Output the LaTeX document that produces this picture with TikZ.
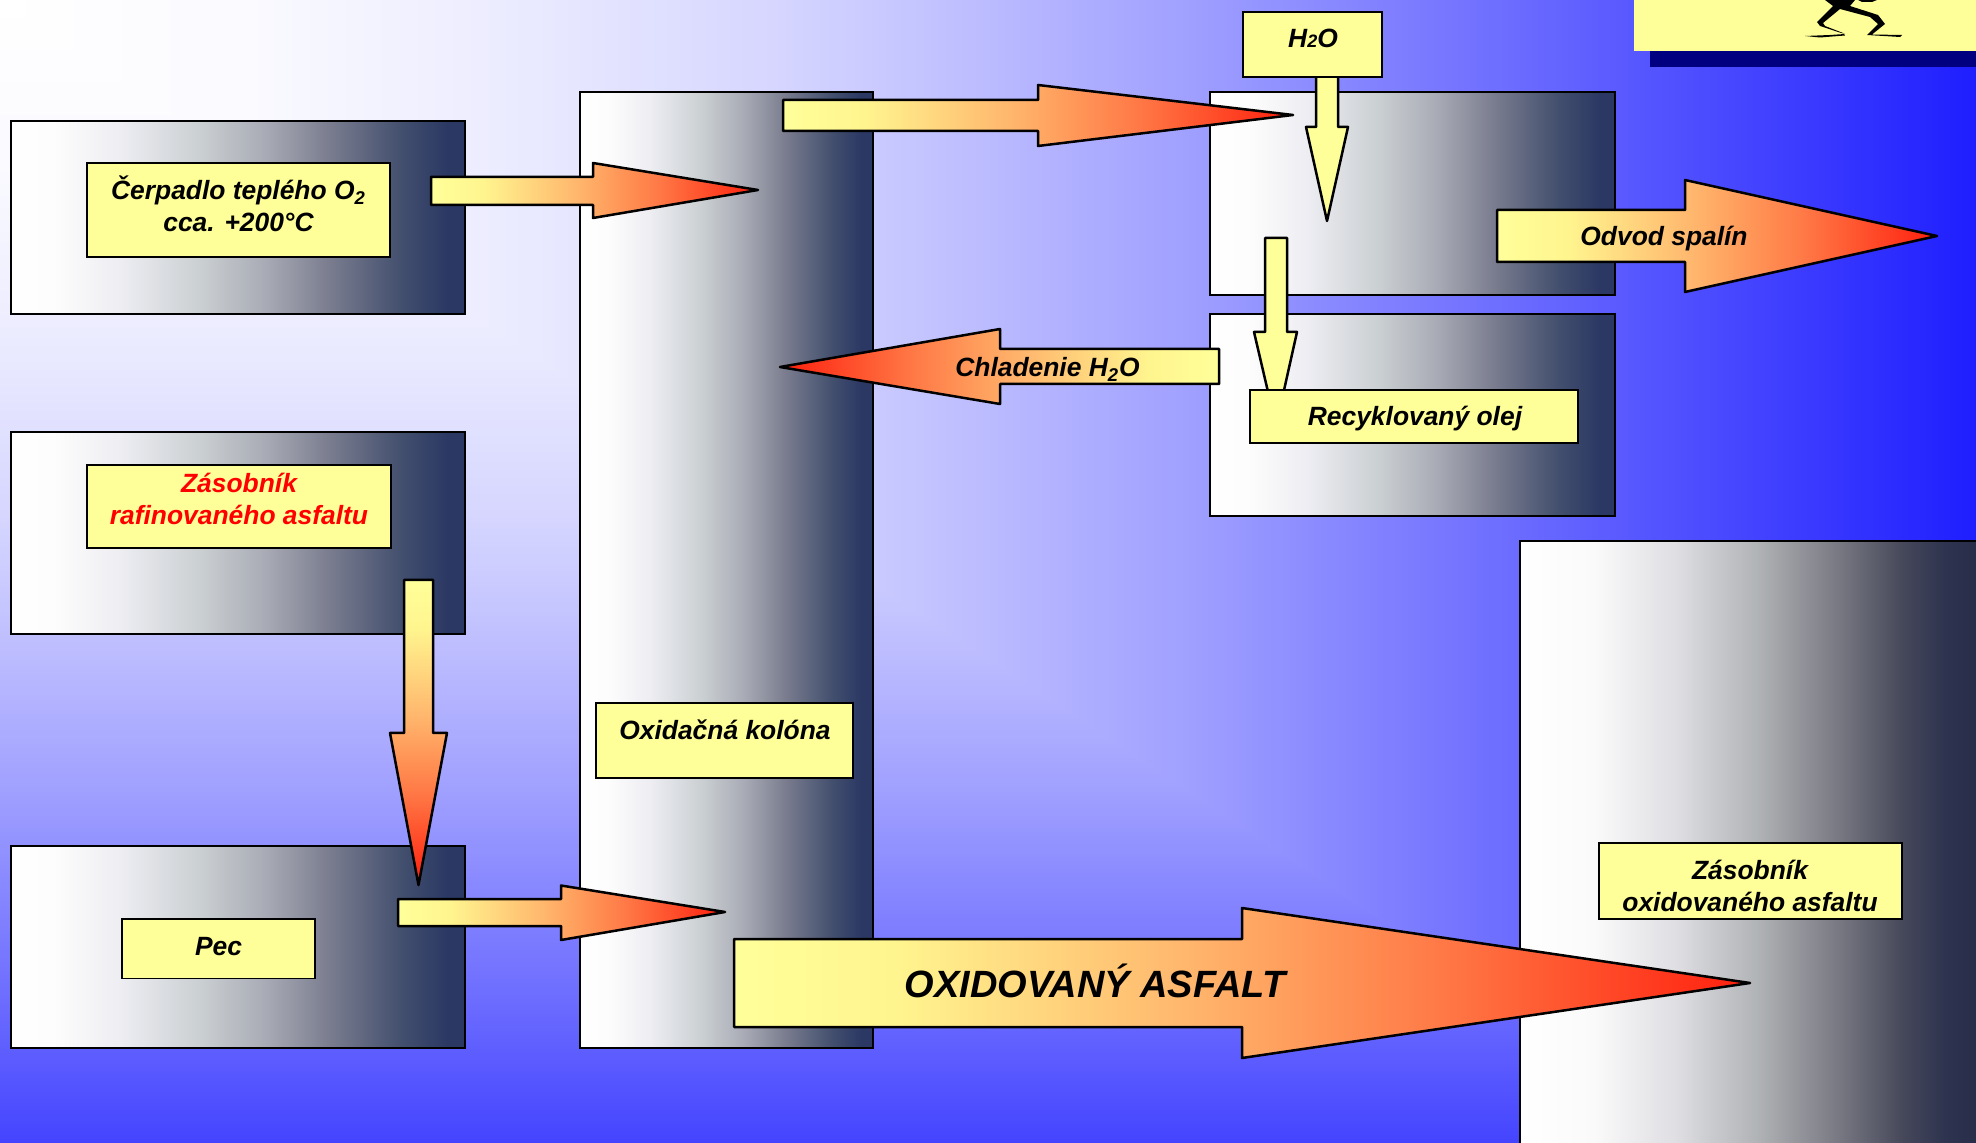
\documentclass[tikz,border=0pt]{standalone}
\usepackage{fontspec}
\setmainfont{Liberation Sans}
\usetikzlibrary{fit}
\pgfdeclarehorizontalshading{bgx}{100bp}{rgb(0bp)=(1,1,1); rgb(25bp)=(1,1,1); rgb(31.3bp)=(.98,.98,1); rgb(37.65bp)=(.925,.925,1); rgb(44.5bp)=(.84,.84,1); rgb(47bp)=(.795,.795,1); rgb(54.9bp)=(.63,.63,1); rgb(63.2bp)=(.424,.424,1); rgb(75bp)=(.118,.118,1); rgb(100bp)=(.118,.118,1)}
\pgfdeclareverticalshading{bgy}{100bp}{rgb(0bp)=(.267,.267,1); rgb(25bp)=(.267,.267,1); rgb(31.25bp)=(.424,.424,1); rgb(40.6bp)=(.63,.63,1); rgb(49.6bp)=(.795,.795,1); rgb(52.6bp)=(.84,.84,1); rgb(60.4bp)=(.925,.925,1); rgb(67.7bp)=(.98,.98,1); rgb(75bp)=(1,1,1); rgb(100bp)=(1,1,1)}
\pgfdeclarehorizontalshading{boxgrad}{100bp}{rgb(0bp)=(1,1,1); rgb(25bp)=(1,1,1); rgb(30bp)=(.99,.99,.99); rgb(37bp)=(.93,.93,.95); rgb(46bp)=(.79,.81,.82); rgb(53bp)=(.66,.67,.71); rgb(60bp)=(.48,.49,.56); rgb(68bp)=(.26,.31,.43); rgb(73bp)=(.17,.22,.39); rgb(100bp)=(.17,.22,.39)}
\pgfdeclarehorizontalshading{storegrad}{100bp}{rgb(0bp)=(1,1,1); rgb(25bp)=(1,1,1); rgb(33bp)=(.98,.98,.98); rgb(41.8bp)=(.87,.87,.89); rgb(50.6bp)=(.69,.7,.71); rgb(59.3bp)=(.47,.47,.51); rgb(66.3bp)=(.27,.28,.35); rgb(70.7bp)=(.18,.2,.31); rgb(75bp)=(.15,.17,.28); rgb(100bp)=(.15,.17,.28)}
\pgfdeclarehorizontalshading{arrowR}{100bp}{rgb(0bp)=(1,1,.6); rgb(25bp)=(1,1,.6); rgb(33bp)=(1,.96,.56); rgb(47bp)=(1,.72,.43); rgb(60bp)=(1,.47,.27); rgb(75bp)=(1,.12,.05); rgb(100bp)=(1,.12,.05)}
\pgfdeclarehorizontalshading{arrowL}{100bp}{rgb(0bp)=(1,.12,.05); rgb(25bp)=(1,.12,.05); rgb(40bp)=(1,.47,.27); rgb(53bp)=(1,.72,.43); rgb(67bp)=(1,.96,.56); rgb(75bp)=(1,1,.6); rgb(100bp)=(1,1,.6)}
\pgfdeclareverticalshading{arrowD}{100bp}{rgb(0bp)=(1,.12,.05); rgb(25bp)=(1,.12,.05); rgb(40bp)=(1,.47,.27); rgb(53bp)=(1,.72,.43); rgb(67bp)=(1,.96,.56); rgb(75bp)=(1,1,.6); rgb(100bp)=(1,1,.6)}
\definecolor{paleyellow}{rgb}{1,1,.6}
\definecolor{shadownavy}{rgb}{0,0,.5}
\tikzset{
  panel/.style={inner sep=0pt,draw=black,line width=1.3pt,shade,shading=boxgrad},
  storepanel/.style={panel,shading=storegrad},
  tag/.style={inner sep=0pt,draw=black,line width=.95pt,fill=paleyellow},
  word/.style={inner sep=0pt,font=\fontsize{13.2}{16}\selectfont\bfseries\itshape,text=black,align=center},
  blockarrow/.style={draw=black,line width=1.25pt,line join=round},
}
\newcommand{\boxnode}[6]{\node[#2,fit={(#3,#4)(#5,#6)}] (#1) {};}
\begin{document}
\begin{tikzpicture}[x=.5pt,y=-.5pt]
\useasboundingbox (0,0) rectangle (1976,1143);
% background
\shade[shading=bgy] (0,0) rectangle (1976,1143);
\begin{scope}
  \clip (0,0) -- (1976,0) -- (1976,1143) -- (1714,1143) -- cycle;
  \shade[shading=bgx] (0,0) rectangle (1976,1143);
\end{scope}
% top right card
\fill[shadownavy] (1650,40) rectangle (1976,67);
\fill[paleyellow] (1634,-5) rectangle (1976,51);
\fill[black] (1825,0) -- (1833,6) -- (1817,22) -- (1820,26) -- (1838,32) -- (1845,34) -- (1830,35) -- (1805,36) -- (1820,37.5) -- (1845,35.5) -- (1843,33) -- (1825,26) -- (1823,23) -- (1840,9) -- (1870,17) -- (1878,24) -- (1867,35) -- (1900,37) -- (1902,35) -- (1872,34.5) -- (1885,24) -- (1878,15) -- (1850,6) -- (1855,0) -- cycle;
\fill[black] (1858,0) -- (1877,0) -- (1872,2) -- (1862,2) -- cycle;
% panels
\boxnode{pumpPanel}{panel}{11}{121}{465}{314}
\boxnode{column}{panel}{580}{92}{873}{1048}
\boxnode{tankPanel}{panel}{11}{432}{465}{634}
\boxnode{furnacePanel}{panel}{11}{846}{465}{1048}
\boxnode{upperPanel}{panel}{1210}{92}{1615}{295}
\boxnode{lowerPanel}{panel}{1210}{314}{1615}{516}
\boxnode{storePanel}{storepanel}{1520}{541}{1985}{1200}
% block arrows
\shadedraw[blockarrow,shading=arrowR] (431,177) -- (593,177) -- (593,163) -- (758,190) -- (593,218) -- (593,205) -- (431,205) -- cycle;
\shadedraw[blockarrow,shading=arrowD] (404,580) -- (433,580) -- (433,733) -- (447,733) -- (418.5,885) -- (390,733) -- (404,733) -- cycle;
\shadedraw[blockarrow,shading=arrowR] (398,899) -- (561,899) -- (561,885.5) -- (725,912) -- (561,940) -- (561,926) -- (398,926) -- cycle;
\shadedraw[blockarrow,shading=arrowR] (734,939) -- (1242,939) -- (1242,908) -- (1750,983) -- (1242,1058) -- (1242,1027) -- (734,1027) -- cycle;
\shadedraw[blockarrow,shading=arrowR] (783,100) -- (1038,100) -- (1038,85) -- (1293,115) -- (1038,146) -- (1038,131) -- (783,131) -- cycle;
\shadedraw[blockarrow,shading=arrowL] (1219,349) -- (1000,349) -- (1000,329) -- (780,367) -- (1000,404) -- (1000,384) -- (1219,384) -- cycle;
\shadedraw[blockarrow,shading=arrowR] (1497,210) -- (1685,210) -- (1685,180) -- (1937,236) -- (1685,292) -- (1685,262) -- (1497,262) -- cycle;
\draw[blockarrow,fill=paleyellow] (1316,70) -- (1338,70) -- (1338,127) -- (1348,127) -- (1327,221) -- (1306,127) -- (1316,127) -- cycle;
\draw[blockarrow,fill=paleyellow] (1265,238) -- (1287,238) -- (1287,332) -- (1297,332) -- (1276,426) -- (1254,332) -- (1265,332) -- cycle;
% tags
\boxnode{pumpTag}{tag}{87}{163}{390}{257}
\boxnode{tankTag}{tag}{87}{465}{391}{548}
\boxnode{furnaceTag}{tag}{122}{919}{315}{978.5}
\boxnode{columnTag}{tag}{596}{703}{853}{778}
\boxnode{storeTag}{tag}{1599}{843}{1902}{919}
\boxnode{waterTag}{tag}{1243}{12}{1382}{77}
\boxnode{oilTag}{tag}{1250}{390}{1578}{443}
% texts
\node[word] (pumpText) at (238.5,204) {Čerpadlo teplého O\textsubscript{2}\\cca. +200°C};
\node[word,text=red] (tankText) at (239,499) {Zásobník\\rafinovaného asfaltu};
\node[word,anchor=base] (furnaceText) at (218.5,955) {Pec};
\node[word,anchor=base] (columnText) at (725,740) {Oxidačná kolóna};
\node[word] (storeText) at (1750,886) {Zásobník\\oxidovaného asfaltu};
\node[word,anchor=base] (waterText) at (1313,48) {H{\fontsize{9}{9}\selectfont 2}O};
\node[word,anchor=base] (oilText) at (1415,426) {Recyklovaný olej};
\node[word,anchor=base] (fumeText) at (1664,246) {Odvod spalín};
\node[word,anchor=base] (coolText) at (1047.5,377) {Chladenie H\textsubscript{2}O};
\node[word,anchor=base,font=\fontsize{19}{22}\selectfont\bfseries\itshape] (bigText) at (1095,997) {OXIDOVANÝ ASFALT};
\end{tikzpicture}
\end{document}
